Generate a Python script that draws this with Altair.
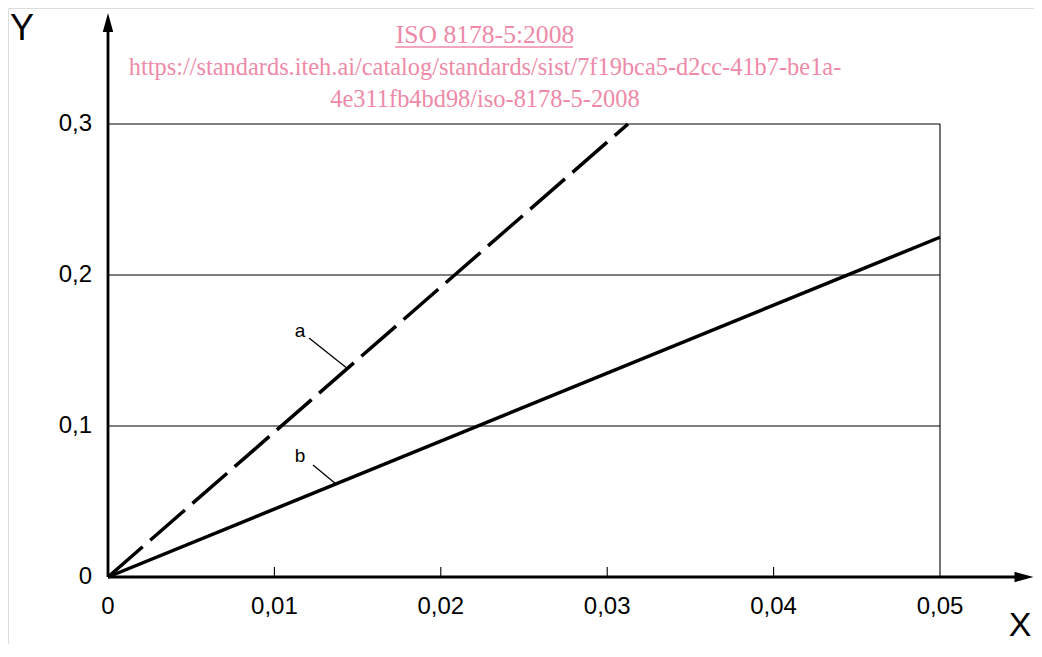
import altair as alt
import pandas as pd

# ---------------- data ----------------
x_ticks = [0.0, 0.01, 0.02, 0.03, 0.04, 0.05]
x_tick_labels = ["0", "0,01", "0,02", "0,03", "0,04", "0,05"]
y_ticks = [0.0, 0.1, 0.2, 0.3]
y_tick_labels = ["0", "0,1", "0,2", "0,3"]
grid_y = [0.1, 0.2, 0.3]
minor_x = [0.01, 0.02, 0.03, 0.04]

line_a_x = [0.0, 0.03125]
line_a_y = [0.0, 0.3]
line_b_x = [0.0, 0.05]
line_b_y = [0.0, 0.225]

curve_labels = ["a", "b"]
watermark_lines = [
    "ISO 8178-5:2008",
    "https://standards.iteh.ai/catalog/standards/sist/7f19bca5-d2cc-41b7-be1a-",
    "4e311fb4bd98/iso-8178-5-2008",
]
axis_names = ["Y", "X"]

# ---------------- layout ----------------
W, H = 1026, 636
PXX, PXY = 16640.0, 1510.0       # pixels per data unit
ORIG_X, ORIG_Y = 100, 569        # origin inside the view (px)
x_dom = [-ORIG_X / PXX, (W - ORIG_X) / PXX]
y_dom = [(ORIG_Y - H) / PXY, ORIG_Y / PXY]

xs = alt.Scale(domain=x_dom, nice=False, zero=False)
ys = alt.Scale(domain=y_dom, nice=False, zero=False)


def X(f="x"):
    return alt.X(f"{f}:Q", scale=xs, axis=None)


def Y(f="y"):
    return alt.Y(f"{f}:Q", scale=ys, axis=None)


def dx(px):
    return px / PXX


def dy(px):
    return px / PXY


BLACK = "#000000"
PINK = "#EE8AA8"
SANS = "Liberation Sans"
SERIF = "Liberation Serif"

x_max = line_b_x[-1]
y_max = y_ticks[-1]

# grid lines
grid = alt.Chart(pd.DataFrame({"y": grid_y, "x": 0.0, "x2": x_max})).mark_rule(
    color=BLACK, strokeWidth=1.1
).encode(x=X(), x2="x2:Q", y=Y())

right_edge = alt.Chart(pd.DataFrame({"x": [x_max], "y": [0.0], "y2": [y_max]})).mark_rule(
    color=BLACK, strokeWidth=1.1
).encode(x=X(), y=Y(), y2="y2:Q")

minor = alt.Chart(pd.DataFrame({"x": minor_x, "y": 0.0, "y2": dy(10)})).mark_rule(
    color=BLACK, strokeWidth=1.1
).encode(x=X(), y=Y(), y2="y2:Q")

# axes with arrows
y_axis = alt.Chart(pd.DataFrame({"x": [0.0], "y": [0.0], "y2": [dy(577 - 30)]})).mark_rule(
    color=BLACK, strokeWidth=2.8
).encode(x=X(), y=Y(), y2="y2:Q")

x_axis = alt.Chart(pd.DataFrame({"y": [0.0], "x": [0.0], "x2": [dx(1017 - 108)]})).mark_rule(
    color=BLACK, strokeWidth=2.8
).encode(y=Y(), x=X(), x2="x2:Q")

y_arrow = alt.Chart(pd.DataFrame({"x": [0.0], "y": [dy(577 - 22.5)]})).mark_point(
    shape="M0,-1L0.55,1L-0.55,1Z", size=361, filled=True, color=BLACK, opacity=1
).encode(x=X(), y=Y())

x_arrow = alt.Chart(pd.DataFrame({"x": [dx(1024 - 108)], "y": [0.0]})).mark_point(
    shape="M1,0L-1,0.55L-1,-0.55Z", size=361, filled=True, color=BLACK, opacity=1
).encode(x=X(), y=Y())

# tick labels
ylab = alt.Chart(pd.DataFrame({"y": y_ticks, "t": y_tick_labels, "x": dx(-16)})).mark_text(
    font=SANS, fontSize=24, align="right", baseline="middle", color=BLACK
).encode(x=X(), y=Y(), text="t:N")

xlab = alt.Chart(pd.DataFrame({"x": x_ticks, "t": x_tick_labels, "y": dy(-30)})).mark_text(
    font=SANS, fontSize=24, align="center", baseline="middle", color=BLACK
).encode(x=X(), y=Y(), text="t:N")

names = alt.Chart(pd.DataFrame({
    "t": axis_names,
    "s": [36, 34],
    "x": [dx(22 - 108), dx(1020 - 108)],
    "y": [dy(577 - 29), dy(577 - 626)],
})).mark_text(font=SANS, align="center", baseline="middle", color=BLACK).encode(
    x=X(), y=Y(), text="t:N", size=alt.Size("s:Q", scale=None, legend=None)
)

# curves
line_a = alt.Chart(pd.DataFrame({"x": line_a_x, "y": line_a_y})).mark_line(
    color=BLACK, strokeWidth=3.5, strokeDash=[46, 10], strokeCap="butt"
).encode(x=X(), y=Y())

line_b = alt.Chart(pd.DataFrame({"x": line_b_x, "y": line_b_y})).mark_line(
    color=BLACK, strokeWidth=3.5
).encode(x=X(), y=Y())

# curve labels and leaders
clab = alt.Chart(pd.DataFrame({
    "t": curve_labels,
    "x": [dx(300 - 108), dx(300 - 108)],
    "y": [dy(577 - 331), dy(577 - 456)],
})).mark_text(font=SANS, fontSize=19, align="center", baseline="middle", color=BLACK).encode(
    x=X(), y=Y(), text="t:N"
)

leaders = alt.Chart(pd.DataFrame({
    "x": [dx(309 - 108), dx(313 - 108)],
    "y": [dy(577 - 338), dy(577 - 465)],
    "x2": [dx(348 - 108), dx(336 - 108)],
    "y2": [dy(577 - 369), dy(577 - 484)],
})).mark_rule(color=BLACK, strokeWidth=1.3).encode(x=X(), y=Y(), x2="x2:Q", y2="y2:Q")

# watermark
wm = alt.Chart(pd.DataFrame({
    "t": watermark_lines,
    "s": [25.6, 24.4, 24.4],
    "x": dx(485 - 108),
    "y": [dy(577 - 43), dy(577 - 75), dy(577 - 107)],
})).mark_text(font=SERIF, align="center", baseline="alphabetic", color=PINK).encode(
    x=X(), y=Y(), text="t:N", size=alt.Size("s:Q", scale=None, legend=None)
)

underline = alt.Chart(pd.DataFrame({
    "x": [dx(395 - 108)], "x2": [dx(573 - 108)], "y": [dy(577 - 47)]
})).mark_rule(color=PINK, strokeWidth=1.4).encode(x=X(), x2="x2:Q", y=Y())

chart = alt.layer(
    grid, right_edge, minor, line_b, line_a, leaders, clab,
    y_axis, x_axis, y_arrow, x_arrow, ylab, xlab, names, wm, underline
).properties(
    width=W, height=H, padding=0,
    autosize=alt.AutoSizeParams(type="none"),
).configure_view(stroke=None).configure(background="white")

chart.save("out.html", embed_options={"renderer": "svg", "actions": False})
